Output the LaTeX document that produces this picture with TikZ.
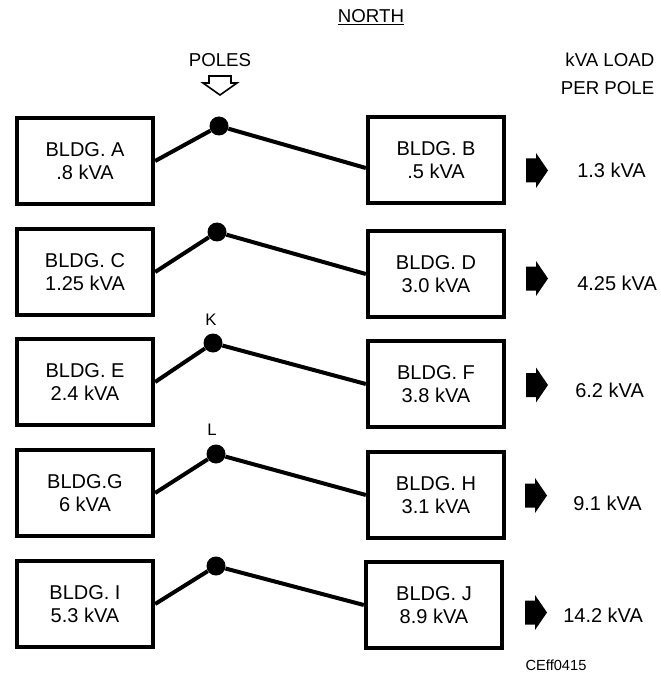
\documentclass[tikz,border=0pt]{standalone}
\usepackage{fontspec}
\setmainfont{Liberation Sans}
\begin{document}
\begin{tikzpicture}[x=0.75pt,y=-0.75pt,
  bldg/.style={draw,line width=3.2pt,minimum width=102pt,minimum height=64pt,align=center,font=\fontsize{15}{17.25}\selectfont},
  pole/.style={circle,fill,inner sep=0pt,minimum size=14.25pt},
  wire/.style={line width=3pt},
  load/.style={anchor=west,inner sep=0pt,font=\fontsize{15}{18}\selectfont},
  head/.style={font=\fontsize{14}{21}\selectfont}]
\useasboundingbox (0,0) rectangle (660,673);

\node[head] (north) at (371,17) {\underline{NORTH}};
\node[head] (poles) at (220,60) {POLES};
\draw[line width=1.2pt,line join=miter] (209,76) -- (231,76) -- (231,83) -- (237,83) -- (220,95) -- (203,83) -- (209,83) -- cycle;
\node[head,align=right,anchor=east] (perpole) at (659,74) {kVA LOAD\\PER POLE};

\node[bldg] (bA) at (85,161) {BLDG. A\\.8 kVA};
\node[bldg] (bB) at (436,160) {BLDG. B\\.5 kVA};
\node[pole] (pole1) at (219,126) {};
\draw[wire] (bA.east) -- (pole1) -- ([yshift=-6pt]bB.west);
\fill (526,170.5) ++(0,-12) -- ++(10,0) -- ++(0,-5.5) -- ++(12,17.5) -- ++(-12,17.5) -- ++(0,-5.5) -- ++(-10,0) -- cycle;
\node[load] (ld1) at (577,170) {1.3 kVA};

\node[bldg] (bC) at (85,272) {BLDG. C\\1.25 kVA};
\node[bldg] (bD) at (436,274) {BLDG. D\\3.0 kVA};
\node[pole] (pole2) at (217,232) {};
\draw[wire] (bC.east) -- (pole2) -- (bD.west);
\fill (526,278.5) ++(0,-12) -- ++(10,0) -- ++(0,-5.5) -- ++(12,17.5) -- ++(-12,17.5) -- ++(0,-5.5) -- ++(-10,0) -- cycle;
\node[load] (ld2) at (577,283) {4.25 kVA};

\node[bldg] (bE) at (85,382) {BLDG. E\\2.4 kVA};
\node[bldg] (bF) at (436,384) {BLDG. F\\3.8 kVA};
\node[pole] (pole3) at (213,343) {};
\node[font=\fontsize{12.5}{15}\selectfont] (lK) at (211,320) {K};
\draw[wire] (bE.east) -- (pole3) -- (bF.west);
\fill (526,385) ++(0,-12) -- ++(10,0) -- ++(0,-5.5) -- ++(12,17.5) -- ++(-12,17.5) -- ++(0,-5.5) -- ++(-10,0) -- cycle;
\node[load] (ld3) at (575,390) {6.2 kVA};

\node[bldg] (bG) at (85,493) {BLDG.G\\6 kVA};
\node[bldg] (bH) at (436,495) {BLDG. H\\3.1 kVA};
\node[pole] (pole4) at (216,454) {};
\node[font=\fontsize{12.5}{15}\selectfont] (lL) at (212,430) {L};
\draw[wire] (bG.east) -- (pole4) -- (bH.west);
\fill (525,495.5) ++(0,-12) -- ++(10,0) -- ++(0,-5.5) -- ++(12,17.5) -- ++(-12,17.5) -- ++(0,-5.5) -- ++(-10,0) -- cycle;
\node[load] (ld4) at (573,503) {9.1 kVA};

\node[bldg] (bI) at (85,604) {BLDG. I\\5.3 kVA};
\node[bldg] (bJ) at (434,605) {BLDG. J\\8.9 kVA};
\node[pole] (pole5) at (216,566) {};
\draw[wire] (bI.east) -- (pole5) -- (bJ.west);
\fill (525,612.5) ++(0,-12) -- ++(10,0) -- ++(0,-5.5) -- ++(12,17.5) -- ++(-12,17.5) -- ++(0,-5.5) -- ++(-10,0) -- cycle;
\node[load] (ld5) at (563,615) {14.2 kVA};

\node[font=\fontsize{11}{13}\selectfont] (fig) at (556,665) {CEff0415};
\end{tikzpicture}
\end{document}
